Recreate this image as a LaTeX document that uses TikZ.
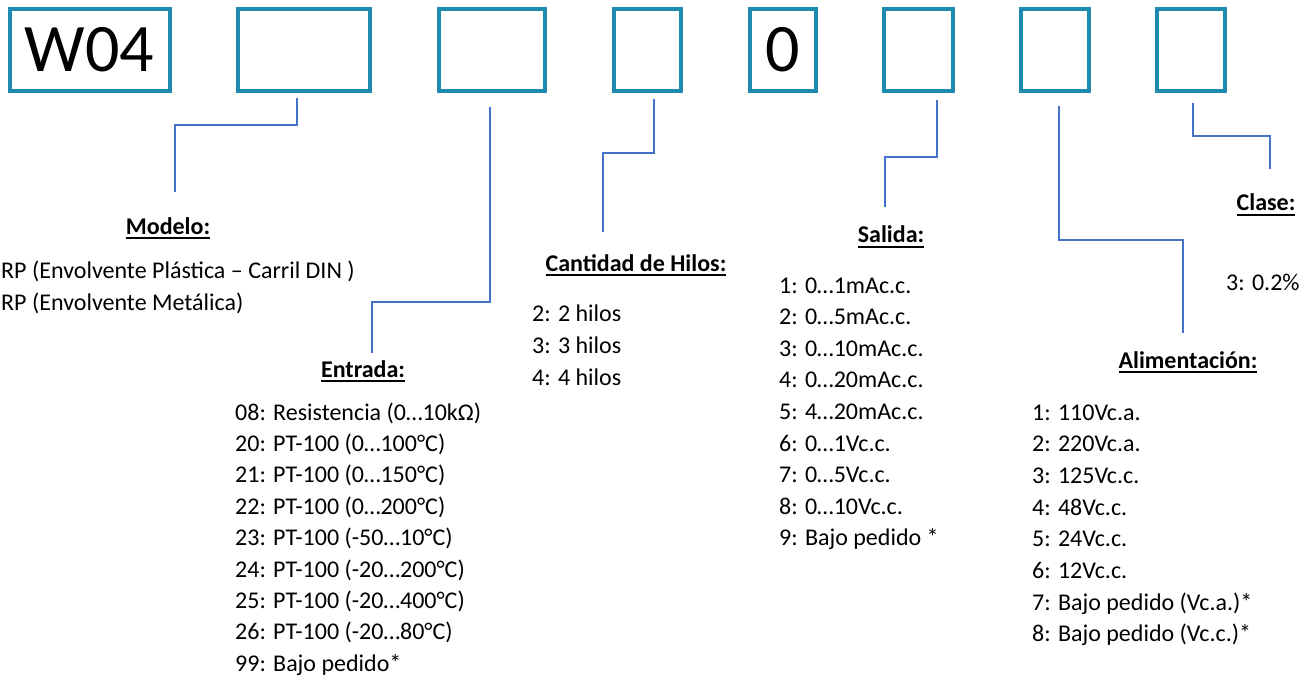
\documentclass[tikz,border=0pt]{standalone}
\usepackage{fontspec}
\setmainfont{Carlito}
\definecolor{boxc}{RGB}{31,138,176}
\definecolor{linec}{RGB}{68,114,196}
\newcommand{\ulbf}[1]{\setbox0\hbox{\bfseries #1}\rlap{\vrule height -3pt depth 5pt width \wd0}\box0}
\begin{document}
\begin{tikzpicture}[x=1pt,y=-1pt,
  bx/.style={draw=boxc,line width=4pt,minimum height=82pt,inner sep=0pt,font=\fontsize{68}{80}\selectfont},
  conn/.style={draw=linec,line width=1.5pt},
  txt/.style={inner sep=0pt,anchor=base west,font=\fontsize{24}{29}\selectfont},
  hd/.style={inner sep=0pt,anchor=base,font=\fontsize{24}{29}\selectfont\bfseries}]
\useasboundingbox (0,0) rectangle (1309,679);
\fill[white] (0,0) rectangle (1309,679);
% boxes
\node[bx,minimum width=160pt] (b1) at (89.5,50) {W04};
\node[bx,minimum width=132pt] (b2) at (304,50) {};
\node[bx,minimum width=106pt] (b3) at (492,50) {};
\node[bx,minimum width=67pt] (b4) at (647.5,50) {};
\node[bx,minimum width=66pt] (b5) at (783,50) {0};
\node[bx,minimum width=69pt] (b6) at (918.5,50) {};
\node[bx,minimum width=68pt] (b7) at (1055,50) {};
\node[bx,minimum width=68pt] (b8) at (1191,50) {};
% connector end points
\coordinate (s1) at (297,98);   \coordinate (e1) at (175,192);
\coordinate (s2) at (490,107);  \coordinate (e2) at (372,353);
\coordinate (s3) at (654,99);   \coordinate (e3) at (603,232);
\coordinate (s4) at (937,100);  \coordinate (e4) at (885,207);
\coordinate (s5) at (1059,106); \coordinate (e5) at (1183,333);
\coordinate (s6) at (1193,103); \coordinate (e6) at (1270,169);
\draw[conn] (s1) -- ++(0,27) -| (e1);
\draw[conn] (s2) -- ++(0,195) -| (e2);
\draw[conn] (s3) -- ++(0,54) -| (e3);
\draw[conn] (s4) -- ++(0,57) -| (e4);
\draw[conn] (s5) -- ++(0,134) -| (e5);
\draw[conn] (s6) -- ++(0,33) -| (e6);
% Modelo
\node[hd] (hmod) at (168,234) {\ulbf{Modelo:}};
\node[txt] (m1) at (1,278) {RP (Envolvente Plástica – Carril DIN )};
\node[txt] (m2) at (1,310) {RP (Envolvente Metálica)};
% Entrada
\node[hd] (hent) at (363,377) {\ulbf{Entrada:}};
\node[txt] (n1) at (235,420) {08: Resistencia (0…10kΩ)};
\node[txt] (n2) at (235,451.4) {20: PT-100 (0…100°C)};
\node[txt] (n3) at (235,482.8) {21: PT-100 (0…150°C)};
\node[txt] (n4) at (235,514.2) {22: PT-100 (0…200°C)};
\node[txt] (n5) at (235,545.6) {23: PT-100 (-50…10°C)};
\node[txt] (n6) at (235,577) {24: PT-100 (-20…200°C)};
\node[txt] (n7) at (235,608.4) {25: PT-100 (-20…400°C)};
\node[txt] (n8) at (235,639.8) {26: PT-100 (-20…80°C)};
\node[txt] (n9) at (235,671.2) {99: Bajo pedido*};
% Hilos
\node[hd] (hhil) at (636,271) {\ulbf{Cantidad de Hilos:}};
\node[txt] (h1) at (532,321) {2: 2 hilos};
\node[txt] (h2) at (532,353) {3: 3 hilos};
\node[txt] (h3) at (532,385) {4: 4 hilos};
% Salida
\node[hd] (hsal) at (891,243) {\ulbf{Salida:}};
\node[txt] (o1) at (779,293) {1: 0…1mAc.c.};
\node[txt] (o2) at (779,324.6) {2: 0…5mAc.c.};
\node[txt] (o3) at (779,356.2) {3: 0…10mAc.c.};
\node[txt] (o4) at (779,387.8) {4: 0…20mAc.c.};
\node[txt] (o5) at (779,419.4) {5: 4…20mAc.c.};
\node[txt] (o6) at (779,451) {6: 0…1Vc.c.};
\node[txt] (o7) at (779,482.6) {7: 0…5Vc.c.};
\node[txt] (o8) at (779,514.2) {8: 0…10Vc.c.};
\node[txt] (o9) at (779,545.8) {9: Bajo pedido *};
% Alimentacion
\node[hd] (hali) at (1188,368) {\ulbf{Alimentación:}};
\node[txt] (a1) at (1032,420) {1: 110Vc.a.};
\node[txt] (a2) at (1032,451.7) {2: 220Vc.a.};
\node[txt] (a3) at (1032,483.4) {3: 125Vc.c.};
\node[txt] (a4) at (1032,515.1) {4: 48Vc.c.};
\node[txt] (a5) at (1032,546.8) {5: 24Vc.c.};
\node[txt] (a6) at (1032,578.5) {6: 12Vc.c.};
\node[txt] (a7) at (1032,610.2) {7: Bajo pedido (Vc.a.)*};
\node[txt] (a8) at (1032,641.9) {8: Bajo pedido (Vc.c.)*};
% Clase
\node[hd] (hcla) at (1266,211) {\ulbf{Clase:}};
\node[txt] (c1) at (1226,290) {3: 0.2\%};
\end{tikzpicture}
\end{document}
